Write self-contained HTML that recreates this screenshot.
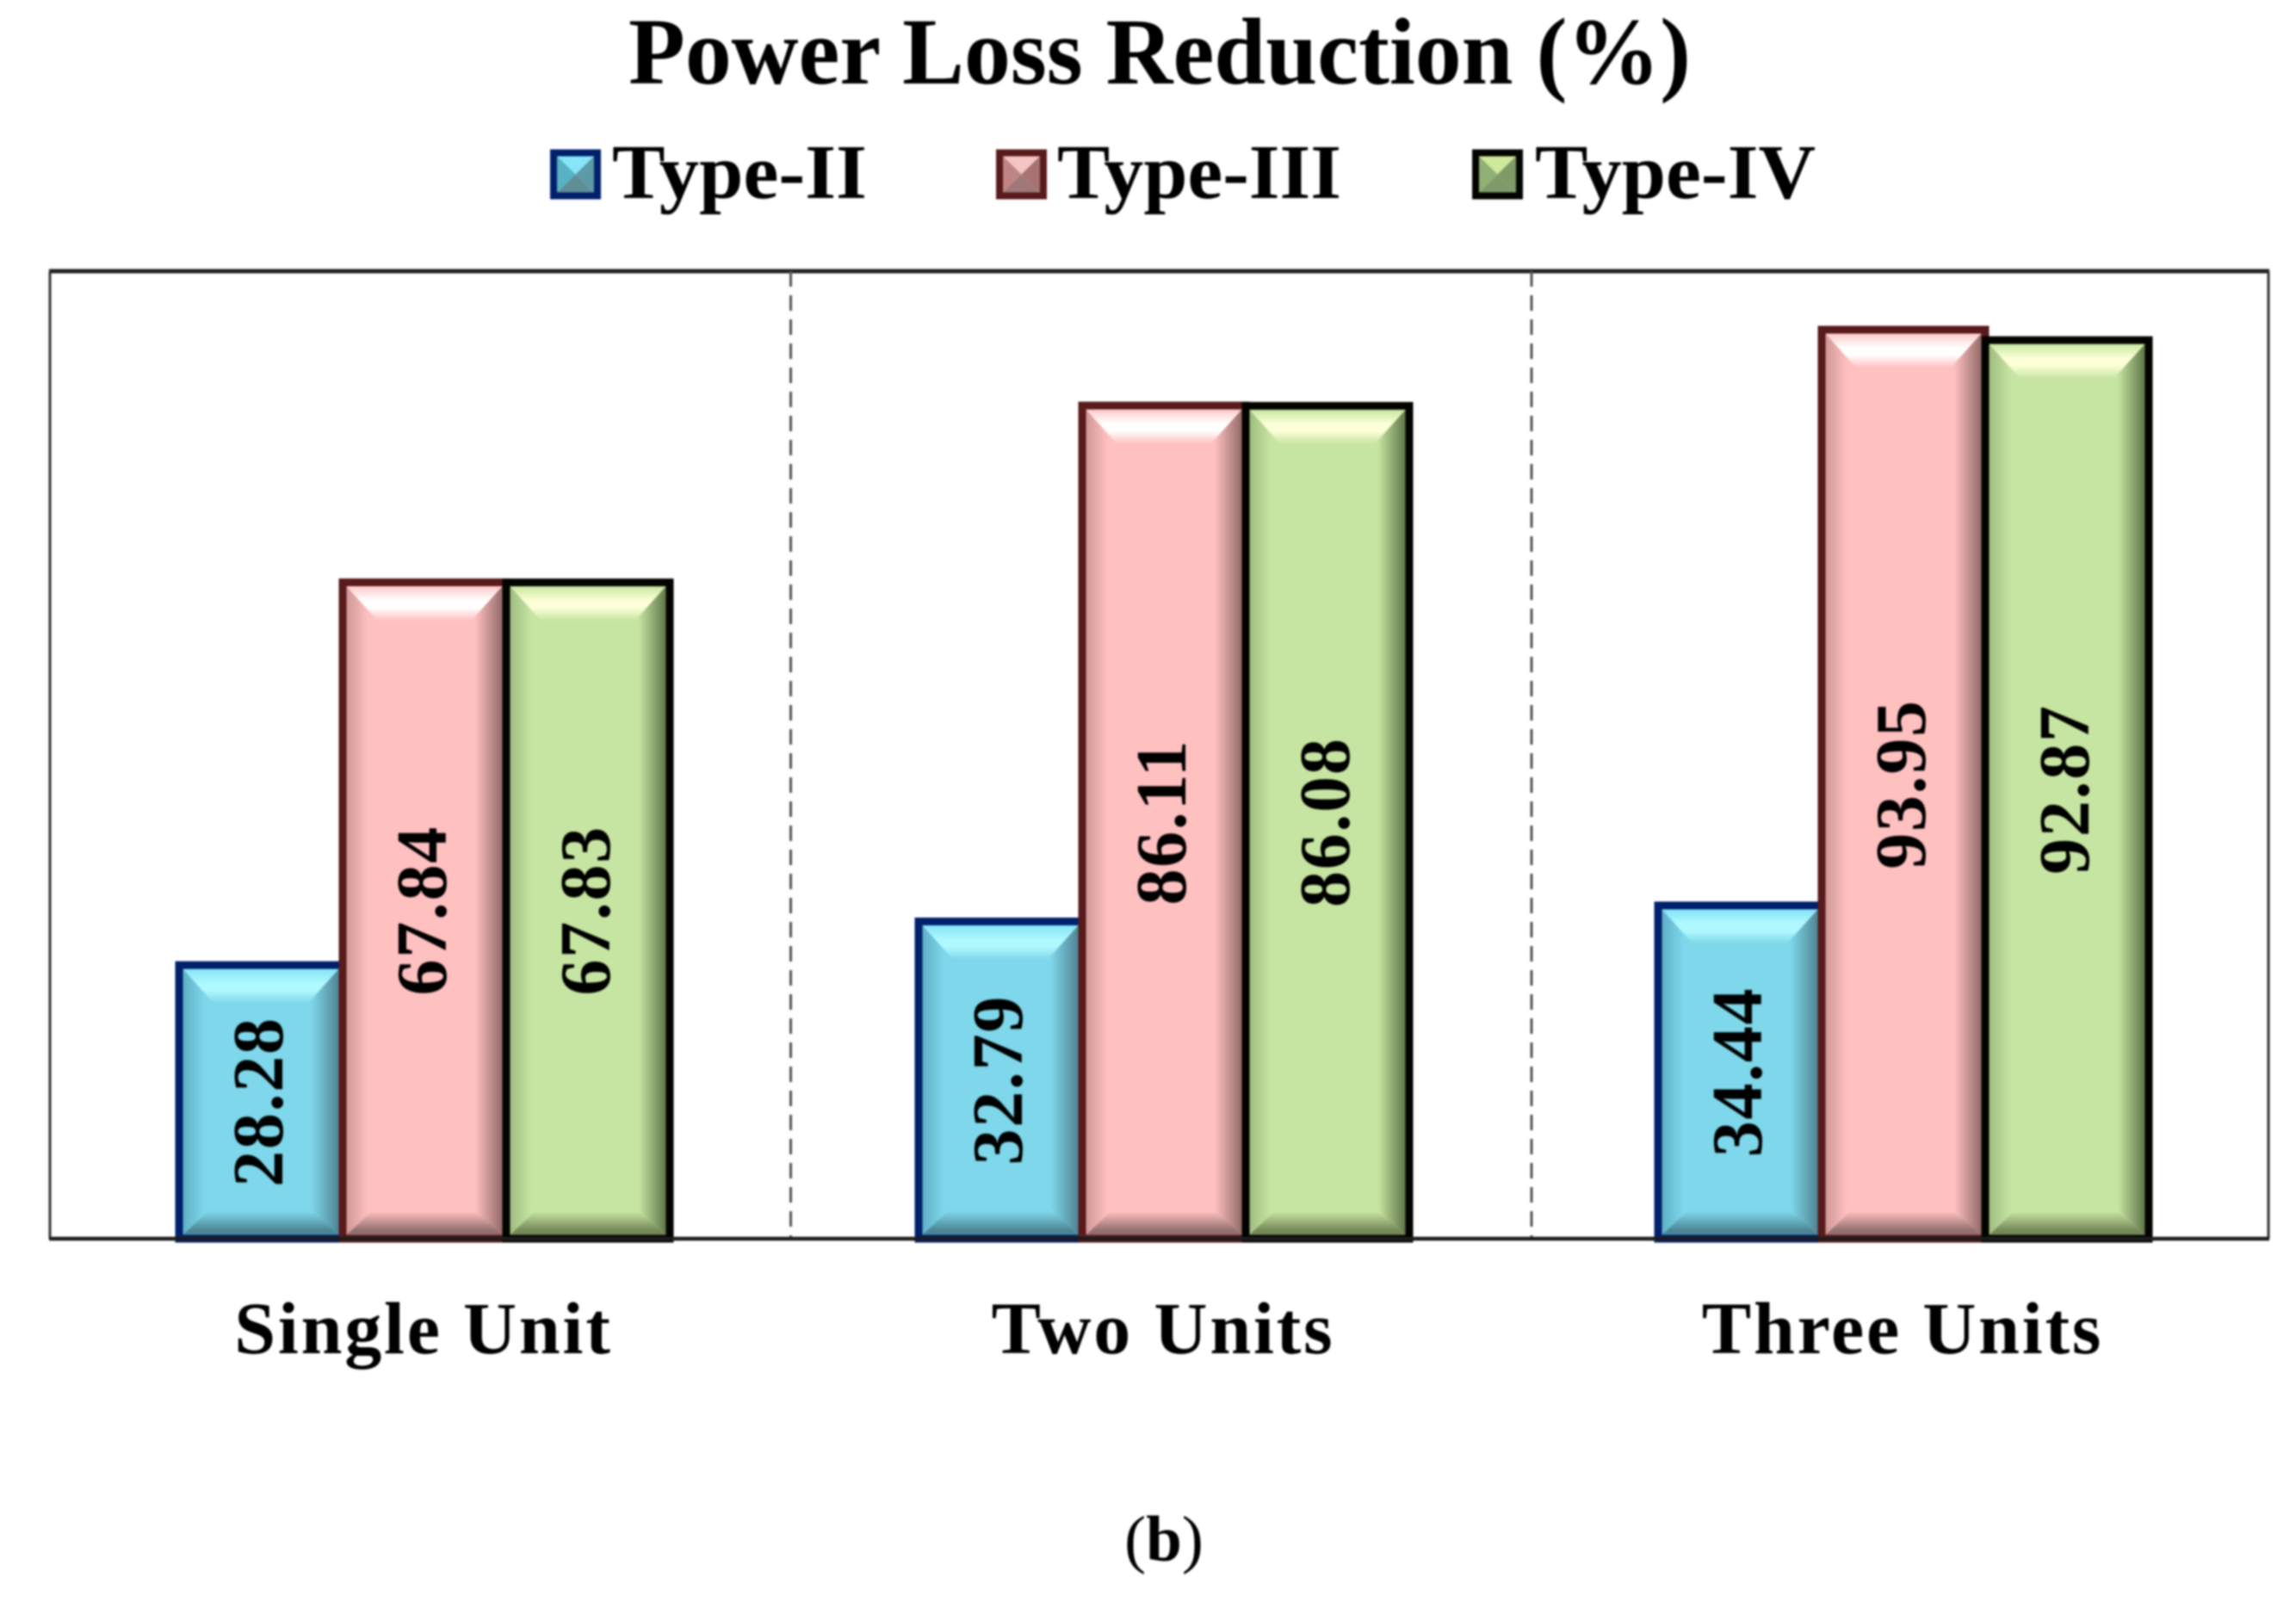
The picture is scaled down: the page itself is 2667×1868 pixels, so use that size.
<!DOCTYPE html>
<html lang="en">
<head>
<meta charset="utf-8">
<title>Power Loss Reduction (%)</title>
<style>
html,body{margin:0;padding:0;background:#fff;width:2667px;height:1868px;overflow:hidden}
svg{display:block;filter:blur(1px)}
text{font-family:"Liberation Serif",serif;font-weight:bold;fill:#000}
</style>
</head>
<body>
<svg id="chart" xmlns="http://www.w3.org/2000/svg" width="2667" height="1868" viewBox="0 0 2667 1868">
  <defs id="defs"></defs>
  <rect x="0" y="0" width="2667" height="1868" fill="#fff"/>
  <text x="1347" y="97" font-size="110" text-anchor="middle" textLength="1234" lengthAdjust="spacingAndGlyphs">Power Loss Reduction (%)</text>
  <g id="legend"></g>
  <g id="plot"></g>
  <text x="1352" y="1813" font-size="75" text-anchor="middle"><tspan font-weight="normal">(</tspan>b<tspan font-weight="normal">)</tspan></text>
</svg>
<script>
const categories = ["Single Unit", "Two Units", "Three Units"];
const seriesNames = ["Type-II", "Type-III", "Type-IV"];
const typeIIValues = [28.28, 32.79, 34.44];
const typeIIIValues = [67.84, 86.11, 93.95];
const typeIVValues = [67.83, 86.08, 92.87];
const seriesValues = [typeIIValues, typeIIIValues, typeIVValues];
const axisMax = 100;

const NS = "http://www.w3.org/2000/svg";
const plot = document.getElementById("plot");
const legend = document.getElementById("legend");
const defs = document.getElementById("defs");

const frame = {left: 58, right: 2635, top: 315, bottom: 1439};
const barWidth = 190;
const groupShift = 5.5;
const palettes = [
  {key:"blue",  base:"#7ed7ea", stroke:"#00206c", hi:"#b0f9ff", topEdge:"#84e4f8", low:"#4b8595", side:"#4f8494", left:"#5fb0c6",
   swTop:"#86e6f8", swLeft:"#57b2c6", swRight:"#5c9aa8", swBottom:"#5f8e96"},
  {key:"pink",  base:"#ffc0c0", stroke:"#581a1a", hi:"#ffffff", topEdge:"#ffcaca", low:"#946f6f", side:"#946a6a", left:"#d09898",
   swTop:"#f5c4c4", swLeft:"#c08484", swRight:"#a87272", swBottom:"#a07878"},
  {key:"green", base:"#c7e5a2", stroke:"#030400", hi:"#fdffd8", topEdge:"#c6e8a0", low:"#758858", side:"#5f7648", left:"#a0bd80",
   swTop:"#cfe89a", swLeft:"#92b074", swRight:"#7f9a66", swBottom:"#7f9a6a"}
];

function xBand(c) {
  return frame.left + (frame.right - frame.left) * (c + 0.5) / categories.length + groupShift;
}
function xBar(c, s) {
  return xBand(c) + (s - seriesNames.length / 2) * barWidth;
}
function yVal(v) {
  return frame.bottom - (frame.bottom - frame.top) * v / axisMax;
}

function make(tag, attrs, parent) {
  const el = document.createElementNS(NS, tag);
  for (const k in attrs) el.setAttribute(k, attrs[k]);
  if (parent) parent.appendChild(el);
  return el;
}
function gradient(id, vertical, stops) {
  const g = make("linearGradient", {id: id, x1: 0, y1: 0, x2: vertical ? 0 : 1, y2: vertical ? 1 : 0}, defs);
  stops.forEach(function (st) { make("stop", {offset: st[0], "stop-color": st[1]}, g); });
}
palettes.forEach(function (p) {
  gradient(p.key + "-top", true, [[0, p.topEdge], [0.42, p.hi], [0.62, p.hi], [1, p.base]]);
  gradient(p.key + "-bottom", true, [[0, p.base], [0.2, p.base], [0.85, p.low], [1, p.low]]);
  gradient(p.key + "-right", false, [[0, p.base], [0.12, p.base], [1, p.side]]);
  gradient(p.key + "-left", false, [[0, p.left], [0.7, p.base], [1, p.base]]);
});

function pts(list) {
  return list.map(function (q) { return q[0].toFixed(2) + "," + q[1].toFixed(2); }).join(" ");
}
function bevelBox(parent, x, y, w, h, p) {
  const sw = 9, ix = x + sw / 2, iy = y + sw / 2, iw = w - sw, ih = h - sw;
  const bx = 36, byTop = 40, byBottom = 34;
  make("rect", {x: x, y: y, width: w, height: h, fill: p.base}, parent);
  make("polygon", {points: pts([[ix, iy], [ix + bx, iy + byTop], [ix + bx, iy + ih - byBottom], [ix, iy + ih]]), fill: "url(#" + p.key + "-left)"}, parent);
  make("polygon", {points: pts([[ix + iw, iy], [ix + iw - bx, iy + byTop], [ix + iw - bx, iy + ih - byBottom], [ix + iw, iy + ih]]), fill: "url(#" + p.key + "-right)"}, parent);
  make("polygon", {points: pts([[ix, iy], [ix + iw, iy], [ix + iw - bx, iy + byTop], [ix + bx, iy + byTop]]), fill: "url(#" + p.key + "-top)"}, parent);
  make("polygon", {points: pts([[ix, iy + ih], [ix + iw, iy + ih], [ix + iw - bx, iy + ih - byBottom], [ix + bx, iy + ih - byBottom]]), fill: "url(#" + p.key + "-bottom)"}, parent);
  make("rect", {x: x, y: y, width: w, height: h, fill: "none", stroke: p.stroke, "stroke-width": sw}, parent);
}
function pyramidSwatch(parent, x, y, w, h, p) {
  const cx = x + w / 2, cy = y + h / 2;
  make("polygon", {points: pts([[x, y], [x + w, y], [cx, cy]]), fill: p.swTop}, parent);
  make("polygon", {points: pts([[x, y], [x, y + h], [cx, cy]]), fill: p.swLeft}, parent);
  make("polygon", {points: pts([[x + w, y], [x + w, y + h], [cx, cy]]), fill: p.swRight}, parent);
  make("polygon", {points: pts([[x, y + h], [x + w, y + h], [cx, cy]]), fill: p.swBottom}, parent);
  make("rect", {x: x, y: y, width: w, height: h, fill: "none", stroke: p.stroke, "stroke-width": 8}, parent);
}

/* plot frame: top and side edges */
const frameTop = make("line", {x1: frame.left - 1, x2: frame.right + 1, y1: frame.top, y2: frame.top, stroke: "#222", "stroke-width": 5}, plot);


const frameLeft = make("line", {x1: frame.left, x2: frame.left, y1: frame.top, y2: frame.bottom, stroke: "#333", "stroke-width": 3}, plot);


const frameRight = make("line", {x1: frame.right, x2: frame.right, y1: frame.top, y2: frame.bottom, stroke: "#333", "stroke-width": 3}, plot);



/* category dividers */
for (let c = 1; c < categories.length; c++) {
  const dx = frame.left + (frame.right - frame.left) * c / categories.length + 1.5 * c;
  const divider = make("line", {x1: dx, x2: dx, y1: frame.top, y2: frame.bottom, stroke: "#555", "stroke-width": 3, "stroke-dasharray": "18 10"}, plot);
  
  
}

/* bars */
seriesValues.forEach(function (vals, s) {
  const seriesGroup = make("g", {}, plot);
  
  
  vals.forEach(function (v, c) {
    const barGroup = make("g", {}, seriesGroup);
    
    
    bevelBox(barGroup, xBar(c, s), yVal(v), barWidth, yVal(0) - yVal(v), palettes[s]);
  });
});

/* baseline drawn over the bars */
const baseline = make("line", {x1: frame.left - 1, x2: frame.right + 1, y1: frame.bottom, y2: frame.bottom, stroke: "#1c1c1c", "stroke-width": 4.5}, plot);



/* value labels */
seriesValues.forEach(function (vals, s) {
  vals.forEach(function (v, c) {
    const lx = xBar(c, s) + barWidth / 2 + 25;
    const ly = (yVal(v) + yVal(0)) / 2;
    const label = make("text", {x: lx, y: ly, "font-size": 84, "letter-spacing": 1.7, "text-anchor": "middle", transform: "rotate(-90 " + lx + " " + ly + ")"}, plot);
    
    
    label.textContent = v.toFixed(2);
  });
});

/* category labels */
categories.forEach(function (name, c) {
  const t = make("text", {x: xBand(c) - 1, y: 1572, "font-size": 86, "letter-spacing": 2.8, "text-anchor": "middle"}, plot);
  
  
  t.textContent = name;
});

/* legend */
const legendSwatchX = [643, 1161, 1714];
const legendTextX = [711, 1228, 1783];
const legendTextW = [296, 330, 326];
seriesNames.forEach(function (name, s) {
  const entry = make("g", {}, legend);
  
  
  pyramidSwatch(entry, legendSwatchX[s], 177.5, 51, 50, palettes[s]);
  const t = make("text", {x: legendTextX[s], y: 230, "font-size": 90, textLength: legendTextW[s], lengthAdjust: "spacingAndGlyphs"}, entry);
  
  
  t.textContent = name;
});
</script>
</body>
</html>
